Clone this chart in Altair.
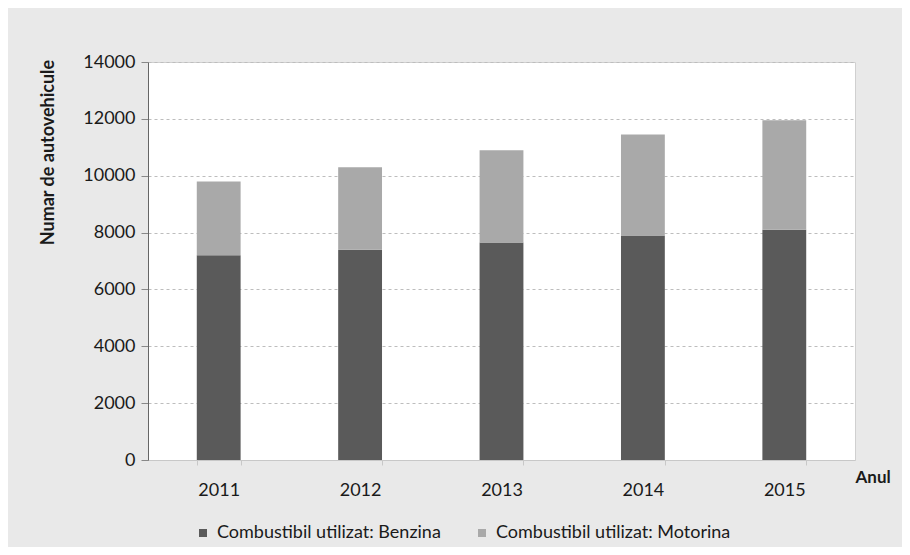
import altair as alt
import pandas as pd

years = ["2011", "2012", "2013", "2014", "2015"]
benzina = [7200, 7400, 7650, 7900, 8100]
motorina = [2600, 2900, 3250, 3550, 3850]
series = ["Combustibil utilizat: Benzina", "Combustibil utilizat: Motorina"]
y_ticks = [0, 2000, 4000, 6000, 8000, 10000, 12000, 14000]

rows = []
for i, yr in enumerate(years):
    rows.append({"an": yr, "tip": series[0], "val": benzina[i], "ord": 0})
    rows.append({"an": yr, "tip": series[1], "val": motorina[i], "ord": 1})
df = pd.DataFrame(rows)

FONT = "Lato"
TXT = "#1a1a1a"

chart = alt.Chart(df).mark_bar().encode(
    x=alt.X("an:N", sort=years,
            scale=alt.Scale(paddingInner=0.69, paddingOuter=0.345),
            axis=alt.Axis(title="Anul", labelAngle=0, tickBand="extent",
                          domainColor="#c8c8c8", tickColor="#c8c8c8", tickSize=5,
                          labelPadding=16, labelFontSize=18, labelColor=TXT,
                          labelFont=FONT, titleFont=FONT, titleFontSize=17,
                          titleFontWeight="bold", titleColor=TXT,
                          titleX=707, titleY=17, titleAlign="left",
                          titleBaseline="middle", grid=False)),
    y=alt.Y("val:Q", stack="zero",
            scale=alt.Scale(domain=[0, 14000], nice=False),
            axis=alt.Axis(title="Numar de autovehicule", values=y_ticks, format="d",
                          domainColor="#666666", tickColor="#888888", tickSize=7,
                          labelPadding=6, labelFontSize=18, labelColor=TXT,
                          labelFont=FONT, titleFont=FONT, titleFontSize=18,
                          titleFontWeight="bold", titleColor=TXT,
                          titleX=-100, titleY=90, titleAlign="center",
                          titleBaseline="middle", titleAngle=-90,
                          grid=True, gridColor="#bdbdbd", gridDash=[3, 3],
                          gridWidth=1)),
    color=alt.Color("tip:N",
                    scale=alt.Scale(domain=series, range=["#5a5a5a", "#a9a9a9"]),
                    legend=alt.Legend(title=None, orient="none", direction="horizontal",
                                      legendX=46, legendY=462,
                                      symbolType="square", symbolSize=64,
                                      symbolStrokeWidth=0, labelFont=FONT,
                                      labelFontSize=18, labelColor=TXT,
                                      labelOffset=5, columnPadding=32,
                                      labelLimit=400)),
    order=alt.Order("ord:Q", sort="ascending"),
).properties(
    width=707, height=398,
    background="#e9e9e9",
    padding={"left": 140, "top": 54, "right": 47, "bottom": 87},
    autosize=alt.AutoSizeParams(type="none"),
).configure_view(
    fill="white", stroke="#d0d0d0", strokeWidth=1
)

chart.save("out.html", embed_options={"renderer": "svg", "actions": False})
